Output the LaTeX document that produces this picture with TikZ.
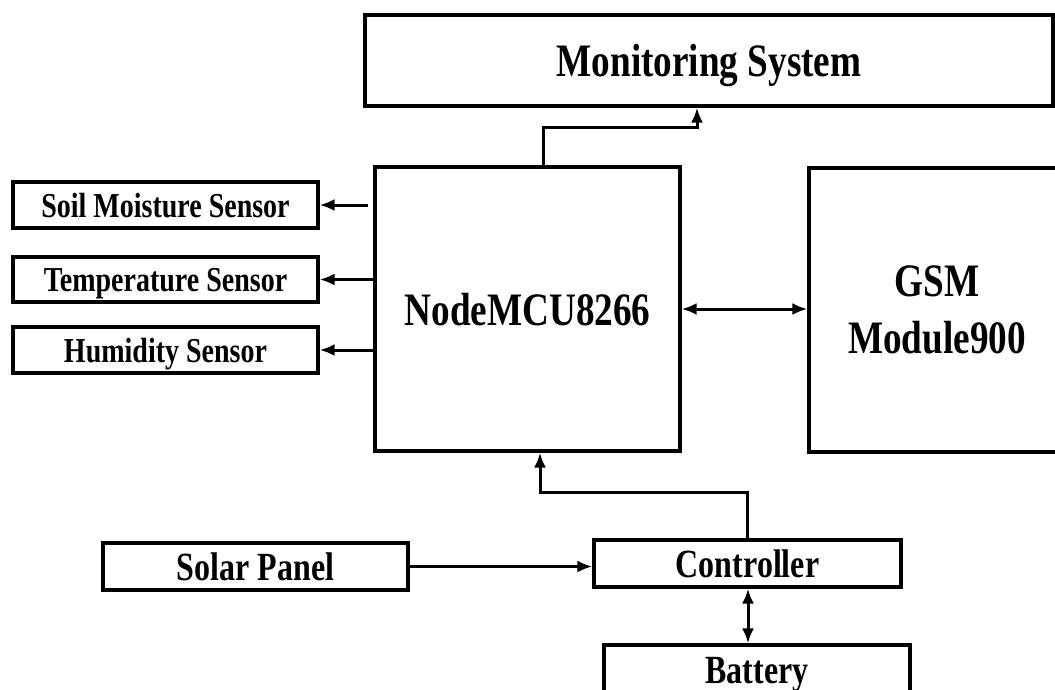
\documentclass[tikz,border=0pt]{standalone}
\usepackage{fontspec}
\setmainfont{Liberation Serif}[FakeStretch=0.8]
\usetikzlibrary{arrows.meta}
\tikzset{
  box/.style={draw=black, line width=3.2pt, rectangle, inner sep=0pt, align=center, text depth=0pt, font=\bfseries},
  big/.style={font=\bfseries\fontsize{46.5}{50}\selectfont},
  mid/.style={font=\bfseries\fontsize{40}{44}\selectfont},
  small/.style={font=\bfseries\fontsize{35}{40}\selectfont},
  conn/.style={line width=3pt, draw=black},
  arr/.style={conn, -{Latex[length=15pt,width=12pt]}},
  dbl/.style={conn, {Latex[length=15pt,width=12pt]}-{Latex[length=15pt,width=12pt]}}
}
\begin{document}
\begin{tikzpicture}[x=1pt,y=-1pt]
\useasboundingbox (0,0) rectangle (1055,689);
\fill[white] (0,0) rectangle (1055,689);
% boxes
\node[box,big,minimum width=688pt,minimum height=91pt] (mon) at (709,60.5) {Monitoring System};
\node[box,small,minimum width=305pt,minimum height=46pt] (soil) at (165.5,205) {Soil Moisture Sensor};
\node[box,small,minimum width=305pt,minimum height=45pt] (temp) at (165.5,279.5) {Temperature Sensor};
\node[box,small,minimum width=305pt,minimum height=46pt] (hum) at (165.5,350) {Humidity Sensor};
\node[box,big,minimum width=305pt,minimum height=284pt] (mcu) at (527.5,309) {NodeMCU8266};
\node[box,big,minimum width=256pt,minimum height=284pt] (gsm) at (937,310) {GSM\\[7pt]Module900};
\node[box,mid,minimum width=305pt,minimum height=47pt] (solar) at (255.5,566.5) {Solar Panel};
\node[box,mid,minimum width=307pt,minimum height=47pt] (ctrl) at (747.5,563.5) {Controller};
\node[box,mid,minimum width=306pt,minimum height=50pt] (bat) at (757,670) {Battery};
% helper coordinates
\coordinate (k1) at (543,127);
\coordinate (k2) at (697,127);
\coordinate (k3) at (747,492);
\coordinate (k4) at (540,492);
\coordinate (k5) at (748,615);
\coordinate (k6) at (368,0);
% connectors
\draw[arr] (mcu.north -| k1) -- (k1) -- (k2) -- (mon.south -| k2);
\draw[arr] (k6 |- soil.east) -- (soil.east);
\draw[arr] (mcu.west |- temp.east) -- (temp.east);
\draw[arr] (mcu.west |- hum.east) -- (hum.east);
\draw[dbl] (mcu.east) -- (gsm.west |- mcu.east);
\draw[arr] (solar.east) -- (ctrl.west |- solar.east);
\draw[arr] (ctrl.north -| k3) -- (k3) -- (k4) -- (mcu.south -| k4);
\draw[dbl] (ctrl.south -| k5) -- (bat.north -| k5);
\end{tikzpicture}
\end{document}
